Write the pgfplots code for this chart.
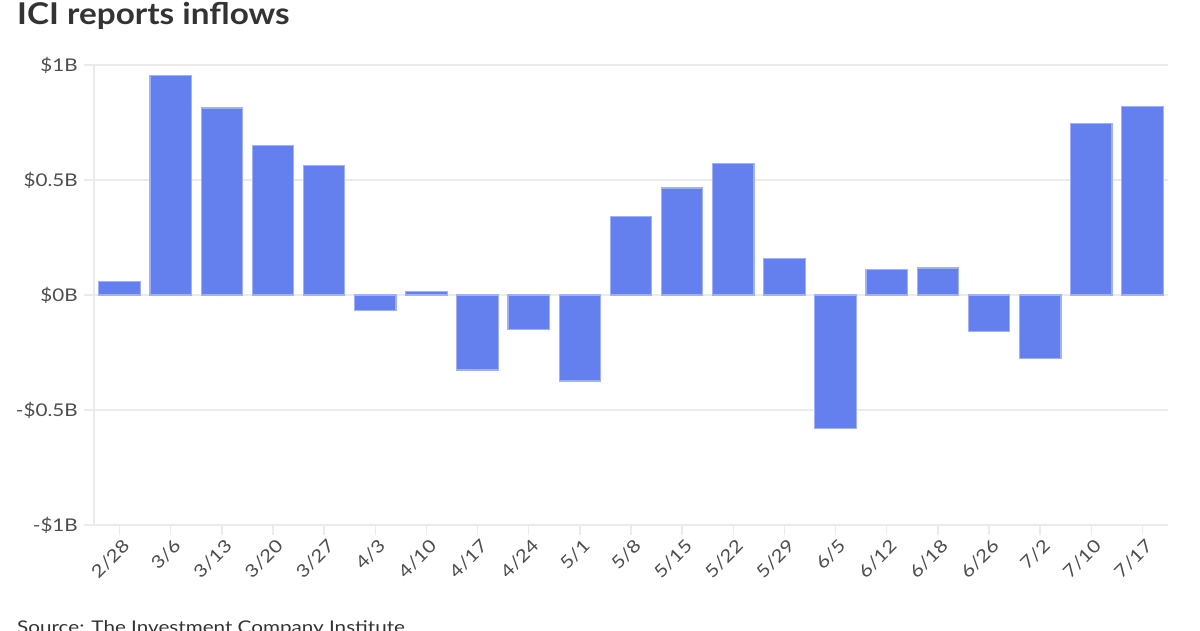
\documentclass[border=0pt]{standalone}
\usepackage{pgfplots}
\pgfplotsset{compat=1.18}
\usepackage{fontspec}
\setmainfont{Lato}[FakeStretch=1.18]
\newfontfamily\titlefont{Lato}[FakeStretch=1.11]
\definecolor{barfill}{RGB}{99,128,238}
\definecolor{baredge}{RGB}{160,178,245}
\definecolor{gridc}{RGB}{235,235,235}
\definecolor{titlec}{RGB}{51,51,51}
\definecolor{labc}{RGB}{77,77,77}
\begin{document}
\begin{tikzpicture}[x=1pt,y=1pt]
\useasboundingbox (0,0) rectangle (1200,630);
\clip (0,0) rectangle (1200,630);
\node[anchor=base west, inner sep=0pt, text=titlec, font=\titlefont\fontsize{30}{36}\selectfont\bfseries] at (17,605) {ICI reports inflows};
\node[anchor=base west, inner sep=0pt, text=titlec, font=\fontsize{17.5}{20}\selectfont] at (17,-3) {Source: The Investment Company Institute};
\begin{axis}[
  at={(94pt,105pt)}, anchor=south west,
  width=1074pt, height=460pt, scale only axis,
  xmin=-0.5, xmax=20.5, ymin=-1, ymax=1,
  axis x line*=bottom, axis y line*=left,
  axis line style={draw=gridc, line width=1.5pt, -},
  ymajorgrids, grid style={draw=gridc, line width=1.5pt},
  ytick={-1,-0.5,0,0.5,1},
  yticklabels={-\$1B,-\$0.5B,\$0B,\$0.5B,\$1B},
  xtick={0,...,20},
  xticklabels={2/28,3/6,3/13,3/20,3/27,4/3,4/10,4/17,4/24,5/1,5/8,5/15,5/22,5/29,6/5,6/12,6/18,6/26,7/2,7/10,7/17},
  tick align=outside, major tick length=10pt,
  tick style={draw=gridc, line width=1.5pt},
  yticklabel style={text=labc, font=\fontsize{17.5}{20}\selectfont, inner sep=0pt, xshift=-6pt},
  xticklabel style={text=labc, font=\fontsize{17.5}{20}\selectfont, xshift=2pt, yshift=-3pt, rotate=45, anchor=north east, inner sep=0pt},
  clip=false,
]
\addplot[ybar, bar width=41.5pt, fill=barfill, draw=baredge, line width=1.2pt] coordinates {
(0,0.057) (1,0.955) (2,0.813) (3,0.651) (4,0.564) (5,-0.067) (6,0.016)
(7,-0.326) (8,-0.150) (9,-0.374) (10,0.340) (11,0.465) (12,0.573)
(13,0.157) (14,-0.582) (15,0.110) (16,0.117) (17,-0.157) (18,-0.276)
(19,0.746) (20,0.819)
};
\end{axis}
\end{tikzpicture}
\end{document}
